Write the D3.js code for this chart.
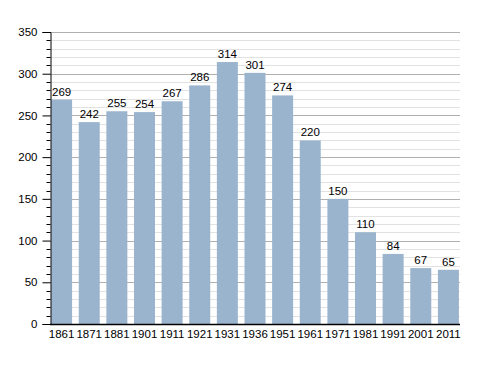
<!DOCTYPE html>
<html>
<head>
<meta charset="utf-8">
<script src="https://cdn.jsdelivr.net/npm/d3@7"></script>
<style>
  body { margin: 0; background: #fff; }
  text { font-family: "Liberation Sans", Arial, sans-serif; font-size: 11.5px; fill: #000; }
</style>
</head>
<body>
<svg id="chart" width="488" height="373"></svg>
<script>
const years = ["1861","1871","1881","1901","1911","1921","1931","1936","1951","1961","1971","1981","1991","2001","2011"]
const population = [269,242,255,254,267,286,314,301,274,220,150,110,84,67,65]
const yTicks = [0,50,100,150,200,250,300,350]

const svg = d3.select("#chart")
const plotLeft = 50, plotRight = 460, plotTop = 32, plotBottom = 324

const x = d3.scaleBand().domain(years).range([plotLeft, plotRight]).paddingInner(0.24).paddingOuter(0.04)
const y = d3.scaleLinear().domain([0, 350]).range([plotBottom, plotTop])
const minor = d3.range(10, 351, 10).filter(v => v % 50 != 0)

// minor grid every 10
svg.append("g").selectAll("line")
    .data(minor)
    .enter().append("line")
    .attr("x1", plotLeft).attr("x2", plotRight)
    .attr("y1", d => Math.round(y(d)) + 0.5).attr("y2", d => Math.round(y(d)) + 0.5)
    .attr("stroke", "#e2e2e2")

// major grid
svg.append("g").selectAll("line")
    .data(yTicks.slice(1))
    .enter().append("line")
    .attr("x1", plotLeft).attr("x2", plotRight)
    .attr("y1", d => Math.round(y(d)) + 0.5).attr("y2", d => Math.round(y(d)) + 0.5)
    .attr("stroke", "#b0b0b0")

// bars
svg.append("g").selectAll("rect")
    .data(years)
    .enter().append("rect")
    .attr("x", d => x(d))
    .attr("width", x.bandwidth())
    .attr("y", (d, i) => y(population[i]))
    .attr("height", (d, i) => plotBottom - y(population[i]))
    .attr("fill", "#9bb4ce")

// value labels
svg.append("g").selectAll("text")
    .data(years)
    .enter().append("text")
    .attr("x", d => x(d) + x.bandwidth() / 2)
    .attr("y", (d, i) => y(population[i]) - 4)
    .attr("text-anchor", "middle")
    .text((d, i) => population[i])

// y axis
const yAxis = svg.append("g").attr("transform", `translate(${plotLeft + 0.5},0)`)
    .call(d3.axisLeft(y).tickValues(yTicks).tickSize(8).tickPadding(5))
yAxis.select(".domain").attr("stroke", "#000")
yAxis.selectAll("text").style("font-size", "11.5px").style("font-family", "Liberation Sans, Arial, sans-serif")
// minor ticks
yAxis.append("g").selectAll("line")
    .data(minor)
    .enter().append("line")
    .attr("x1", -4).attr("x2", 0)
    .attr("y1", d => Math.round(y(d)) + 0.5).attr("y2", d => Math.round(y(d)) + 0.5)
    .attr("stroke", "#000")

// x axis
const xAxis = svg.append("g").attr("transform", `translate(0,${plotBottom + 0.5})`)
    .call(d3.axisBottom(x).tickSize(0).tickPadding(5))
xAxis.select(".domain").attr("d", `M${plotLeft},0H${plotRight}`).attr("stroke", "#000").attr("stroke-width", 1.5)
xAxis.selectAll("text").style("font-size", "11.5px").style("font-family", "Liberation Sans, Arial, sans-serif")
</script>
</body>
</html>
